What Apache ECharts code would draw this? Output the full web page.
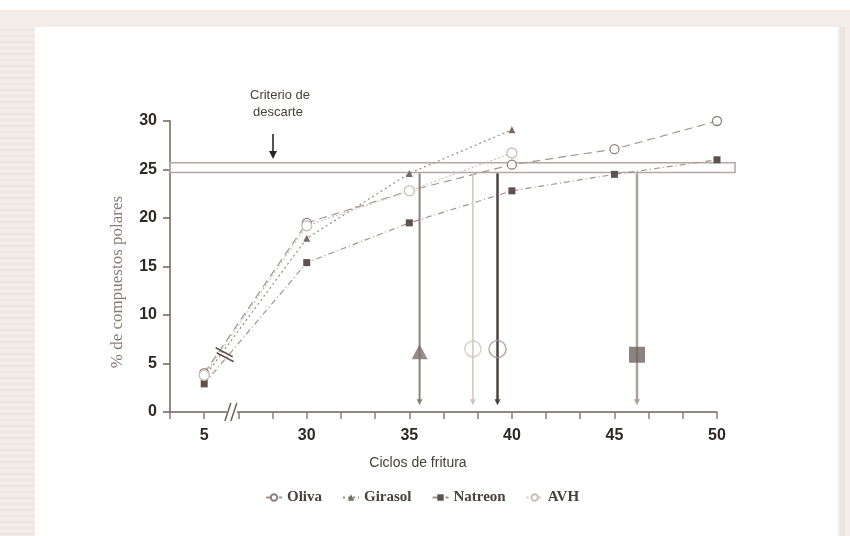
<!DOCTYPE html>
<html>
<head>
<meta charset="utf-8">
<script src="https://cdn.jsdelivr.net/npm/echarts@6/dist/echarts.min.js"></script>
<style>
  html, body { margin:0; padding:0; background:#fff; }
  #chart { width:850px; height:536px; }
</style>
</head>
<body>
<div id="chart"></div>
<script>
// --- datos ---
const ciclos   = [5, 30, 35, 40, 45, 50];
const oliva    = [4.0, 19.5, 22.8, 25.5, 27.1, 30.0];
const girasol  = [3.6, 17.9, 24.6, 29.1, null, null];
const natreon  = [2.9, 15.4, 19.5, 22.8, 24.5, 26.0];
const avh      = [3.8, 19.2, 22.8, 26.7, null, null];
const xEtiquetas = [5, 30, 35, 40, 45, 50];
const descarte = [24.7, 25.7];                 // banda "criterio de descarte"
const corteCiclos = [35.5, 38.1, 39.3, 46.1];  // Girasol, AVH, Oliva, Natreon
const corteMarca  = [6.2, 6.5, 6.5, 5.9];
const corteNombre = ['Girasol', 'AVH', 'Oliva', 'Natreon'];

// eje x cortado: 5 ciclos se dibuja en la posición 25
const SALTO = 20;
const xPos = c => c < 30 ? c + SALTO : c;
const xLabel = v => v < 30 ? v - SALTO : v;

const chart = echarts.init(document.getElementById('chart'));

const pares = arr => ciclos.map((c, i) => arr[i] == null ? null : [xPos(c), arr[i]]).filter(Boolean);

const estiloFlecha = {
  Girasol: { c:'#8e817b', w:2 },
  AVH:     { c:'#cfc5c0', w:1.5 },
  Oliva:   { c:'#4c4240', w:2.5 },
  Natreon: { c:'#aca19b', w:2.5 }
};
const marcaGrande = {
  Girasol: { symbol:'triangle', size:[16,15], style:{ color:'#7d706a' } },
  AVH:     { symbol:'circle', size:16, style:{ color:'rgba(255,255,255,0)', borderColor:'#d0c6c1', borderWidth:1.5 } },
  Oliva:   { symbol:'circle', size:17, style:{ color:'rgba(255,255,255,0)', borderColor:'#a3968f', borderWidth:1.5 } },
  Natreon: { symbol:'rect', size:16, style:{ color:'#6f6460' } }
};

// fondo tipo escaneo
const fondo = [
  { type:'rect', shape:{ x:0, y:10, width:850, height:526 }, style:{ fill:'#f2ede9' }, z:-10 },
  { type:'rect', shape:{ x:35, y:27, width:803, height:509 }, style:{ fill:'#ffffff' }, z:-9 },
  { type:'rect', shape:{ x:840, y:27, width:5, height:509 }, style:{ fill:'#ebe4e0' }, z:-9 }
];
for (let y = 30; y < 536; y += 6) {
  fondo.push({ type:'line', shape:{ x1:0, y1:y, x2:34, y2:y }, style:{ stroke:'#e8e1dc', lineWidth:1 }, z:-8 });
}

chart.setOption({
  backgroundColor:'#ffffff',
  animation:false,
  grid:{ left:170, right:133, top:121, bottom:124 },
  xAxis:{
    type:'value', min:70/3, max:50, interval:5/3,
    axisLine:{ lineStyle:{ color:'#6f625c', width:1.5 } },
    axisTick:{ length:7, lineStyle:{ color:'#8a7d77', width:1.5 } },
    splitLine:{ show:false },
    axisLabel:{
      margin:16, color:'#2f2826', fontFamily:'Liberation Sans', fontWeight:'bold', fontSize:16,
      formatter: v => {
        const e = xEtiquetas.find(t => Math.abs(xPos(t) - v) < 0.01);
        return e == null ? '' : String(xLabel(xPos(e)));
      }
    }
  },
  yAxis:{
    type:'value', min:0, max:30, interval:5,
    axisLine:{ show:true, lineStyle:{ color:'#6f625c', width:1.5 } },
    axisTick:{ show:true, length:7, lineStyle:{ color:'#6f625c', width:1.5 } },
    splitLine:{ show:false },
    axisLabel:{ margin:13, color:'#2f2826', fontFamily:'Liberation Sans', fontWeight:'bold', fontSize:16 }
  },
  legend:{
    data:['Oliva','Girasol','Natreon','AVH'],
    left:260, top:485, itemGap:20, itemWidth:16, itemHeight:8,
    textStyle:{ fontFamily:'Liberation Serif', fontSize:15, color:'#4a403c', fontWeight:'bold' }
  },
  graphic: fondo.concat([
    { type:'text', style:{ text:'Criterio de', x:280, y:95, align:'center', verticalAlign:'middle',
      font:'13px "Liberation Sans"', fill:'#4a403c' } },
    { type:'text', style:{ text:'descarte', x:278, y:112, align:'center', verticalAlign:'middle',
      font:'13px "Liberation Sans"', fill:'#4a403c' } },
    { type:'line', shape:{ x1:273, y1:134, x2:273, y2:152 }, style:{ stroke:'#2c2523', lineWidth:1.6 } },
    { type:'polygon', shape:{ points:[[269,151],[277,151],[273,159]] }, style:{ fill:'#2c2523' } },
    { type:'text', style:{ text:'Ciclos de fritura', x:418, y:463, align:'center', verticalAlign:'middle',
      font:'14px "Liberation Sans"', fill:'#4a403c' } },
    { type:'text', x:118, y:282, rotation:Math.PI/2,
      style:{ text:'% de compuestos polares', x:0, y:0, align:'center', verticalAlign:'middle',
      font:'17px "Liberation Serif"', fill:'#8a7c75' } }
  ]),
  series:[
    { // banda del criterio de descarte
      type:'custom', silent:true, z:1,
      data:[[70/3, 50.88, descarte[0], descarte[1]]],
      encode:{ x:[0,1], y:[2,3] },
      renderItem:(p, api) => {
        const a = api.coord([api.value(0), api.value(3)]);
        const b = api.coord([api.value(1), api.value(2)]);
        return { type:'rect', shape:{ x:a[0], y:a[1], width:b[0]-a[0], height:b[1]-a[1] },
          style:{ fill:'rgba(255,255,255,0.35)', stroke:'#b3a7a1', lineWidth:1.5 } };
      }
    },
    { name:'Oliva', type:'line', data:pares(oliva), z:3,
      symbol:'circle', symbolSize:9,
      lineStyle:{ color:'#a4978f', width:1.2, type:[8,5] },
      itemStyle:{ color:'#ffffff', borderColor:'#8e817b', borderWidth:1.3 } },
    { name:'Girasol', type:'line', data:pares(girasol), z:3,
      symbol:'triangle', symbolSize:7,
      lineStyle:{ color:'#978a84', width:1.2, type:[2,3] },
      itemStyle:{ color:'#776a65' } },
    { name:'Natreon', type:'line', data:pares(natreon), z:3,
      symbol:'rect', symbolSize:7,
      lineStyle:{ color:'#a2968f', width:1.2, type:[6,3,1,3] },
      itemStyle:{ color:'#5c524e' } },
    { name:'AVH', type:'line', data:pares(avh), z:3,
      symbol:'circle', symbolSize:10,
      lineStyle:{ color:'#cec4bf', width:1.2, type:[2,2] },
      itemStyle:{ color:'#ffffff', borderColor:'#c9beb8', borderWidth:1.3 } },
    { // flechas verticales
      type:'custom', silent:true, z:4,
      data: corteCiclos.map(c => [xPos(c), 24.6, 0.7]),
      encode:{ x:0, y:[1,2] },
      renderItem:(p, api) => {
        const t = api.coord([api.value(0), api.value(1)]);
        const b = api.coord([api.value(0), api.value(2)]);
        const st = estiloFlecha[corteNombre[p.dataIndex]];
        return { type:'group', children:[
          { type:'line', shape:{ x1:t[0], y1:t[1], x2:b[0], y2:b[1]-4 }, style:{ stroke:st.c, lineWidth:st.w } },
          { type:'polygon', shape:{ points:[[b[0]-3,b[1]-6],[b[0]+3,b[1]-6],[b[0],b[1]]] }, style:{ fill:st.c } }
        ]};
      }
    },
    { // marcas grandes sobre las flechas
      type:'scatter', z:5, silent:true,
      data: corteCiclos.map((c, i) => {
        const m = marcaGrande[corteNombre[i]];
        return { value:[xPos(c), corteMarca[i]], symbol:m.symbol, symbolSize:m.size, itemStyle:m.style };
      })
    },
    { // marcas de corte del eje (//)
      type:'custom', silent:true, z:6,
      data:[[xPos(6.0), 5.9, 0], [xPos(6.35), 0, 1]],
      encode:{ x:0, y:1 },
      renderItem:(p, api) => {
        const c = api.coord([api.value(0), api.value(1)]);
        if (api.value(2) === 1) {
          return { type:'group', children:[
            { type:'rect', shape:{ x:c[0]-5, y:c[1]-2, width:10, height:4 }, style:{ fill:'#fff' } },
            { type:'line', shape:{ x1:c[0]-7, y1:c[1]+9, x2:c[0]-1, y2:c[1]-9 }, style:{ stroke:'#6f625c', lineWidth:1.5 } },
            { type:'line', shape:{ x1:c[0]-1, y1:c[1]+9, x2:c[0]+5, y2:c[1]-9 }, style:{ stroke:'#6f625c', lineWidth:1.5 } }
          ]};
        }
        return { type:'group', children:[
          { type:'line', shape:{ x1:c[0]-9, y1:c[1]-7, x2:c[0]+8, y2:c[1]+2 }, style:{ stroke:'#5e5350', lineWidth:1.5 } },
          { type:'line', shape:{ x1:c[0]-8, y1:c[1]-2, x2:c[0]+9, y2:c[1]+7 }, style:{ stroke:'#5e5350', lineWidth:1.5 } }
        ]};
      }
    }
  ]
});
</script>
</body>
</html>
